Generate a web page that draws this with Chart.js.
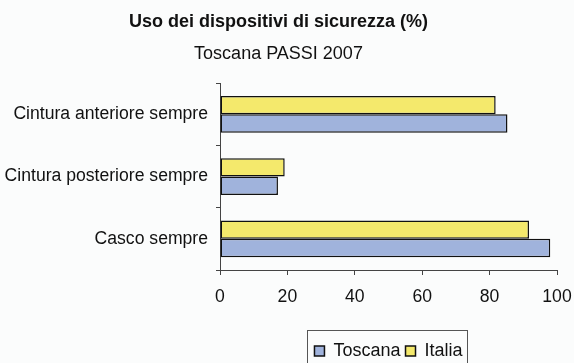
<!DOCTYPE html>
<html>
<head>
<meta charset="utf-8">
<script src="https://cdn.jsdelivr.net/npm/chart.js@4/dist/chart.umd.min.js"></script>
<style>
  html, body { margin: 0; padding: 0; background: #fbfcfc; }
  #wrap { width: 574px; height: 363px; }
</style>
</head>
<body>
<div id="wrap"><canvas id="myChart" width="574" height="363"></canvas></div>
<script>
const categories = ['Cintura anteriore sempre', 'Cintura posteriore sempre', 'Casco sempre'];
const toscana = [85.3, 17.2, 98.0];
const italia = [81.8, 19.2, 91.7];
const xTicks = [0, 20, 40, 60, 80, 100];

const font = "'Liberation Sans', Arial, sans-serif";
const axisColor = '#444';

// frame round the legend items, like the old spreadsheet legends
const legendFrame = {
    id: 'legendFrame',
    afterDraw(chart) {
        const boxes = chart.legend.legendHitBoxes;
        if (!boxes || !boxes.length) return;
        let left = Infinity, right = -Infinity, top = Infinity;
        boxes.forEach(b => {
            left = Math.min(left, b.left);
            right = Math.max(right, b.left + b.width);
            top = Math.min(top, b.top);
        });
        const ctx = chart.ctx;
        ctx.save();
        ctx.strokeStyle = '#555';
        ctx.lineWidth = 1;
        ctx.strokeRect(Math.round(left - 7) + 0.5, Math.round(top - 12) + 0.5,
                       Math.round(right - left + 12), 60);
        ctx.restore();
    }
};

const ctx = document.getElementById('myChart').getContext('2d');
const myChart = new Chart(ctx, {
    type: 'bar',
    data: {
        labels: categories,
        datasets: [{
            label: 'Italia',
            data: italia,
            backgroundColor: '#f4e96c',
            borderColor: '#111',
            borderWidth: 1.5,
            borderSkipped: false
        }, {
            label: 'Toscana',
            data: toscana,
            backgroundColor: '#a0b3dc',
            borderColor: '#111',
            borderWidth: 1.5,
            borderSkipped: false
        }]
    },
    options: {
        indexAxis: 'y',
        responsive: false,
        animation: false,
        categoryPercentage: 0.59,
        barPercentage: 1,
        layout: { padding: { left: 0, right: 17, top: 0, bottom: -7 } },
        plugins: {
            title: {
                display: true,
                text: 'Uso dei dispositivi di sicurezza (%)',
                color: '#111',
                font: { family: font, size: 18, weight: 'bold' },
                padding: { top: 11, bottom: 6 }
            },
            subtitle: {
                display: true,
                text: 'Toscana PASSI 2007',
                color: '#111',
                font: { family: font, size: 18 },
                padding: { top: 5, bottom: 18 }
            },
            legend: {
                position: 'bottom',
                fullSize: false,
                reverse: true,
                labels: {
                    color: '#111',
                    font: { family: font, size: 18 },
                    boxWidth: 10,
                    boxHeight: 10,
                    padding: 5
                }
            },
            tooltip: { enabled: false }
        },
        scales: {
            x: {
                min: 0,
                max: 100,
                afterBuildTicks(scale) {
                    scale.ticks = xTicks.map(v => ({ value: v }));
                },
                afterFit(scale) {
                    scale.height = 67;
                    scale.paddingRight = 0;
                    scale.paddingLeft = 0;
                },
                grid: { drawOnChartArea: false, drawTicks: true, tickLength: 5, color: axisColor },
                border: { color: axisColor },
                ticks: { color: '#111', font: { family: font, size: 17.6 }, padding: 12, maxRotation: 0 }
            },
            y: {
                afterFit(scale) { scale.width = 220; },
                grid: { drawOnChartArea: false, drawTicks: true, tickLength: 4, color: axisColor, offset: true },
                border: { color: axisColor },
                ticks: { color: '#111', font: { family: font, size: 17.6 }, padding: 8 }
            }
        }
    },
    plugins: [legendFrame]
});
</script>
</body>
</html>
